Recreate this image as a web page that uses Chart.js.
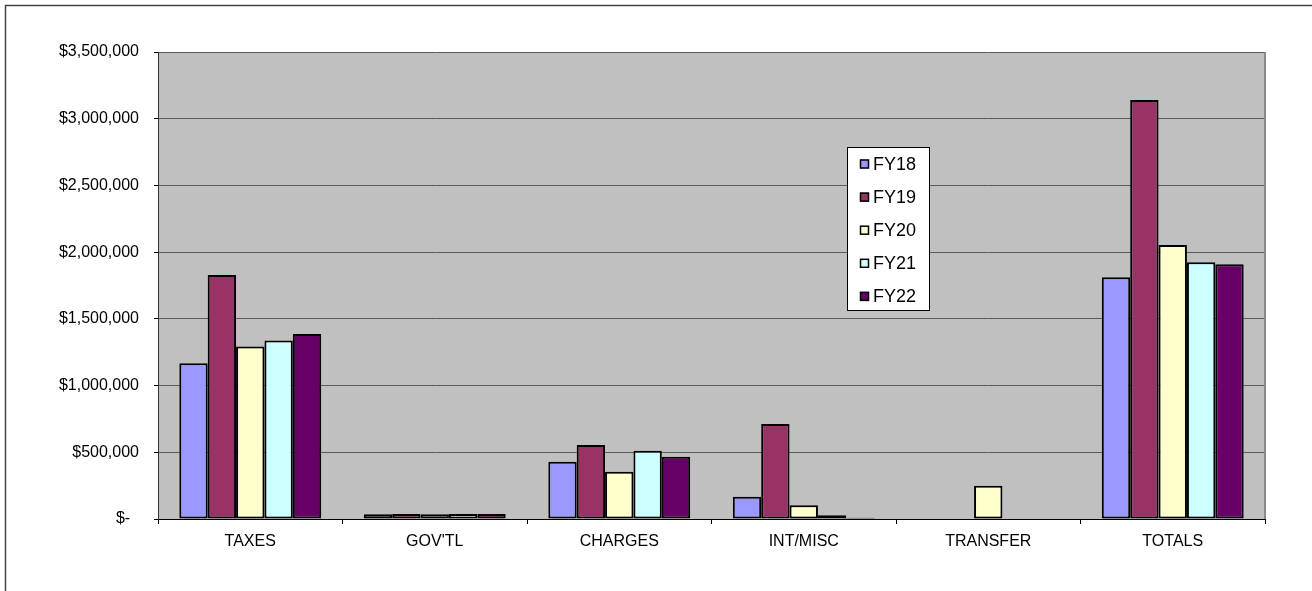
<!DOCTYPE html>
<html>
<head>
<meta charset="utf-8">
<script src="https://cdn.jsdelivr.net/npm/chart.js@4"></script>
<style>
  html, body { margin: 0; padding: 0; background: #ffffff; }
  #wrap { width: 1312px; height: 591px; position: relative; }
  canvas { display: block; }
</style>
</head>
<body>
<div id="wrap"><canvas id="c" width="1312" height="591"></canvas></div>
<script>
// Revenue by source, fiscal years 18-22
const categories = ['TAXES', "GOV'TL", 'CHARGES', 'INT/MISC', 'TRANSFER', 'TOTALS'];
const seriesNames = ['FY18', 'FY19', 'FY20', 'FY21', 'FY22'];
const fy18 = [1167000, 35000, 430000, 167000, 0, 1812000];
const fy19 = [1829000, 37000, 555000, 712000, 0, 3141000];
const fy20 = [1292000, 36000, 355000, 103000, 250000, 2054000];
const fy21 = [1337000, 38000, 512000, 28000, 0, 1925000];
const fy22 = [1387000, 37000, 467000, 10000, 0, 1910000];
const yTickMax = 3500000;
const yTickStep = 500000;

const seriesColors = ['#9999FF', '#993366', '#FFFFCC', '#CCFFFF', '#660066'];
const seriesValues = [fy18, fy19, fy20, fy21, fy22];

const FONT = "'Liberation Sans', Arial, sans-serif";
Chart.defaults.font.family = FONT;
Chart.defaults.color = '#000000';

// Grey plot area, outer frame of the chart
const frame = {
  id: 'frame',
  beforeDraw(chart) {
    const { ctx, chartArea: a } = chart;
    ctx.save();
    ctx.fillStyle = '#ffffff';
    ctx.fillRect(0, 0, chart.width, chart.height);
    ctx.strokeStyle = '#444444';
    ctx.lineWidth = 1.5;
    ctx.strokeRect(5.5, 5.5, chart.width + 20, chart.height + 20);
    ctx.fillStyle = '#C0C0C0';
    ctx.fillRect(a.left, a.top, a.right - a.left, a.bottom - a.top);
    ctx.restore();
  },
  afterDatasetsDraw(chart) {
    const { ctx, chartArea: a } = chart;
    ctx.save();
    ctx.strokeStyle = '#8a8a8a';
    ctx.lineWidth = 2;
    ctx.beginPath();
    ctx.moveTo(a.right, a.top);
    ctx.lineTo(a.right, a.bottom);
    ctx.stroke();
    ctx.restore();
  }
};

// Boxed series key inside the plot
const keyBox = {
  id: 'keyBox',
  afterDraw(chart) {
    const { ctx } = chart;
    const x0 = 847, y0 = 147, w = 82, h = 163;
    const rowStart = 164, rowGap = 33.1;
    ctx.save();
    ctx.fillStyle = '#ffffff';
    ctx.fillRect(x0, y0, w, h);
    ctx.strokeStyle = '#000000';
    ctx.lineWidth = 1;
    ctx.strokeRect(x0 + 0.5, y0 + 0.5, w, h);
    ctx.font = '18px ' + FONT;
    ctx.textBaseline = 'middle';
    ctx.textAlign = 'left';
    chart.data.datasets.forEach((ds, i) => {
      const cy = rowStart + i * rowGap;
      ctx.fillStyle = ds.backgroundColor;
      ctx.fillRect(860, cy - 4.5, 9, 9);
      ctx.strokeStyle = '#000000';
      ctx.lineWidth = 1.5;
      ctx.strokeRect(860.5, cy - 4, 8, 8);
      ctx.fillStyle = '#000000';
      ctx.fillText(ds.label, 873, cy + 1);
    });
    ctx.restore();
  }
};

new Chart(document.getElementById('c'), {
  type: 'bar',
  data: {
    labels: categories,
    datasets: seriesNames.map((name, i) => ({
      label: name,
      data: seriesValues[i],
      backgroundColor: seriesColors[i],
      borderColor: '#000000',
      borderWidth: 2,
      borderSkipped: false,
      categoryPercentage: 0.769,
      barPercentage: 1.0
    }))
  },
  options: {
    responsive: false,
    animation: false,
    devicePixelRatio: 1,
    layout: { padding: { left: 0, top: 52, right: 47, bottom: 0 } },
    plugins: {
      legend: { display: false },
      tooltip: { enabled: false },
      title: { display: false }
    },
    scales: {
      x: {
        grid: {
          display: true,
          drawOnChartArea: false,
          drawTicks: true,
          tickLength: 5,
          color: '#000000',
          offset: true
        },
        border: { display: true, color: '#000000', width: 1 },
        ticks: {
          padding: 8,
          font: { size: 16, family: FONT },
          color: '#000000',
          maxRotation: 0,
          autoSkip: false
        },
        afterFit(scale) { scale.height = 72; }
      },
      y: {
        min: 0,
        max: yTickMax,
        grid: {
          color: '#5a5a5a',
          lineWidth: 1,
          drawTicks: true,
          tickLength: 4,
          tickColor: '#000000'
        },
        border: { display: true, color: '#333333', width: 1 },
        ticks: {
          stepSize: yTickStep,
          padding: 15,
          font: { size: 16, family: FONT },
          color: '#000000',
          callback(v) {
            return v === 0 ? '$-  ' : '$' + Number(v).toLocaleString('en-US');
          }
        },
        afterFit(scale) { scale.width = 158; }
      }
    }
  },
  plugins: [frame, keyBox]
});
</script>
</body>
</html>
